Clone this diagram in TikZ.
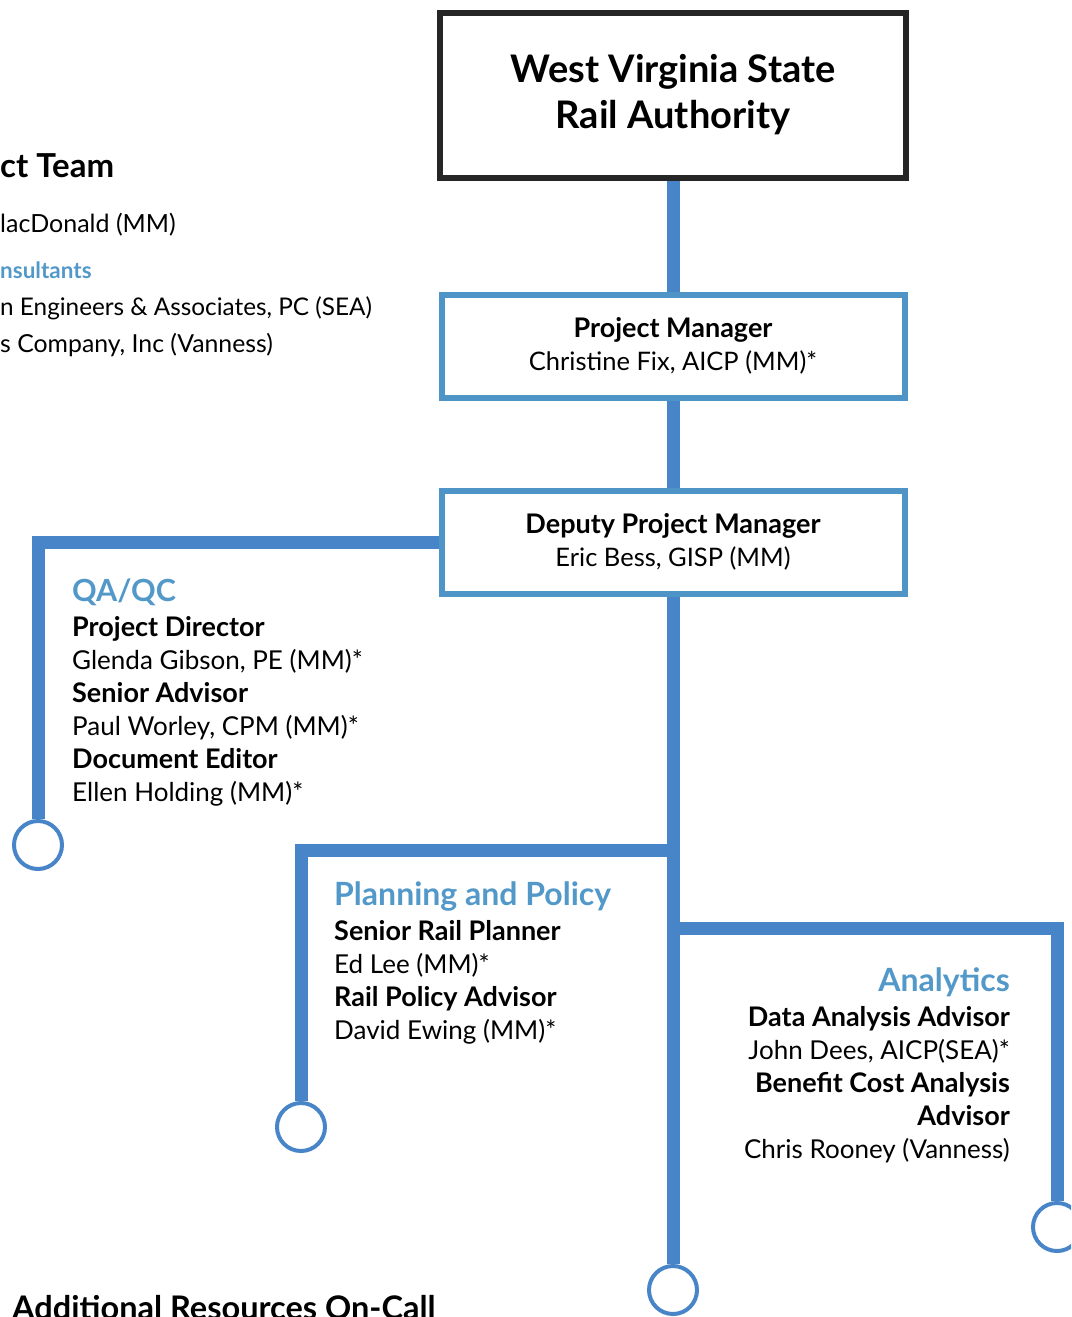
\documentclass[tikz,border=0pt]{standalone}
\usepackage{fontspec}
\setmainfont{Lato}
\usetikzlibrary{positioning,backgrounds}
\definecolor{monBleu}{RGB}{72,132,200}
\definecolor{bleuCadre}{RGB}{78,148,198}
\definecolor{bleuTitre}{RGB}{82,152,200}
\newcommand{\poste}[1]{{\fontsize{27}{33}\selectfont\bfseries #1}}
\newcommand{\equipe}[1]{{\fontsize{32}{33}\selectfont\bfseries\color{bleuTitre}#1}}

\begin{document}
\begin{tikzpicture}[x=1pt,y=-1pt,
    branche/.style={monBleu, line width=13pt},
    cadre/.style={draw=bleuCadre, line width=6pt, minimum width=463pt, minimum height=103pt, align=center, font=\fontsize{25.5}{33}\selectfont},
    bout/.style={circle, draw=monBleu, line width=4pt, minimum size=48pt, inner sep=0pt},
    texte/.style={inner sep=0pt, font=\fontsize{26}{33}\selectfont}]
        % Cadre de l'image
        \clip (0,0) rectangle (1071,1317);

        % Les cadres
        \node[draw=black!85, line width=6pt, minimum width=466pt, minimum height=165pt, align=center, font=\fontsize{38}{46}\selectfont\bfseries] (wv) at (673,95) {West Virginia State\\Rail Authority};
        \node[cadre] (pm) at (673,346) {\poste{Project Manager}\\Christine Fix, AICP (MM)*};
        \node[cadre] (dpm) at (673,542) {\poste{Deputy Project Manager}\\Eric Bess, GISP (MM)};

        % Points de construction
        \coordinate (coinQA) at (38,542);
        \coordinate (noeudPlan) at (673,850);
        \coordinate (coinPlan) at (301,850);
        \coordinate (noeudAna) at (673,928);
        \coordinate (coinAna) at (1057,928);

        % Les cercles
        \node[bout] (finQA) at (38,845) {};
        \node[bout] (finPlan) at (301,1127) {};
        \node[bout] (finAna) at (1057,1227) {};
        \node[bout] (finTronc) at (673,1290) {};

        % Les branches en bleu
        \begin{scope}[on background layer]
            \draw[branche] (wv.south) -- (pm.north);
            \draw[branche] (pm.south) -- (dpm.north);
            \draw[branche] (dpm.south) -- (finTronc.north);
            \draw[branche] (dpm.west) -- (coinQA) -- (finQA.north);
            \draw[branche] (noeudPlan) -- (coinPlan) -- (finPlan.north);
            \draw[branche] (noeudAna) -- (coinAna) -- (finAna.north);
        \end{scope}

        % Les equipes (ancre sur la derniere ligne)
        \node[texte, anchor=base west, align=left] (qa) at (72,801) {{\fontsize{30.5}{33}\selectfont\bfseries\color{bleuTitre}QA/QC}\\[2pt]\poste{Project Director}\\Glenda Gibson, PE (MM)*\\\poste{Senior Advisor}\\Paul Worley, CPM (MM)*\\\poste{Document Editor}\\Ellen Holding (MM)*};
        \node[texte, anchor=base west, align=left] (plan) at (334,1039) {\equipe{Planning and Policy}\\[2pt]\poste{Senior Rail Planner}\\Ed Lee (MM)*\\\poste{Rail Policy Advisor}\\David Ewing (MM)*};
        \node[texte, anchor=base east, align=right] (ana) at (1010,1158) {\equipe{Analytics}\\[2pt]\poste{Data Analysis Advisor}\\John Dees, AICP(SEA)*\\\poste{Benefit Cost Analysis}\\\poste{Advisor}\\Chris Rooney (Vanness)};

        % Texte coupe a gauche
        \node[texte, anchor=base west, font=\fontsize{33}{33}\selectfont\bfseries] (projet) at (0,177) {ct Team};
        \node[texte, anchor=base west, font=\fontsize{25}{33}\selectfont] (mm) at (0,232) {lacDonald (MM)};
        \node[texte, anchor=base west, font=\fontsize{22.5}{33}\selectfont\bfseries, bleuTitre] (consult) at (0,278) {nsultants};
        \node[texte, anchor=base west, font=\fontsize{24.3}{33}\selectfont] (sea) at (0,315) {n Engineers \& Associates, PC (SEA)};
        \node[texte, anchor=base west, font=\fontsize{24.8}{33}\selectfont] (vanness) at (0,352) {s Company, Inc (Vanness)};
        \node[texte, anchor=base west, font=\fontsize{32.5}{33}\selectfont\bfseries] (appel) at (12,1319) {Additional Resources On-Call};
\end{tikzpicture}
\end{document}
